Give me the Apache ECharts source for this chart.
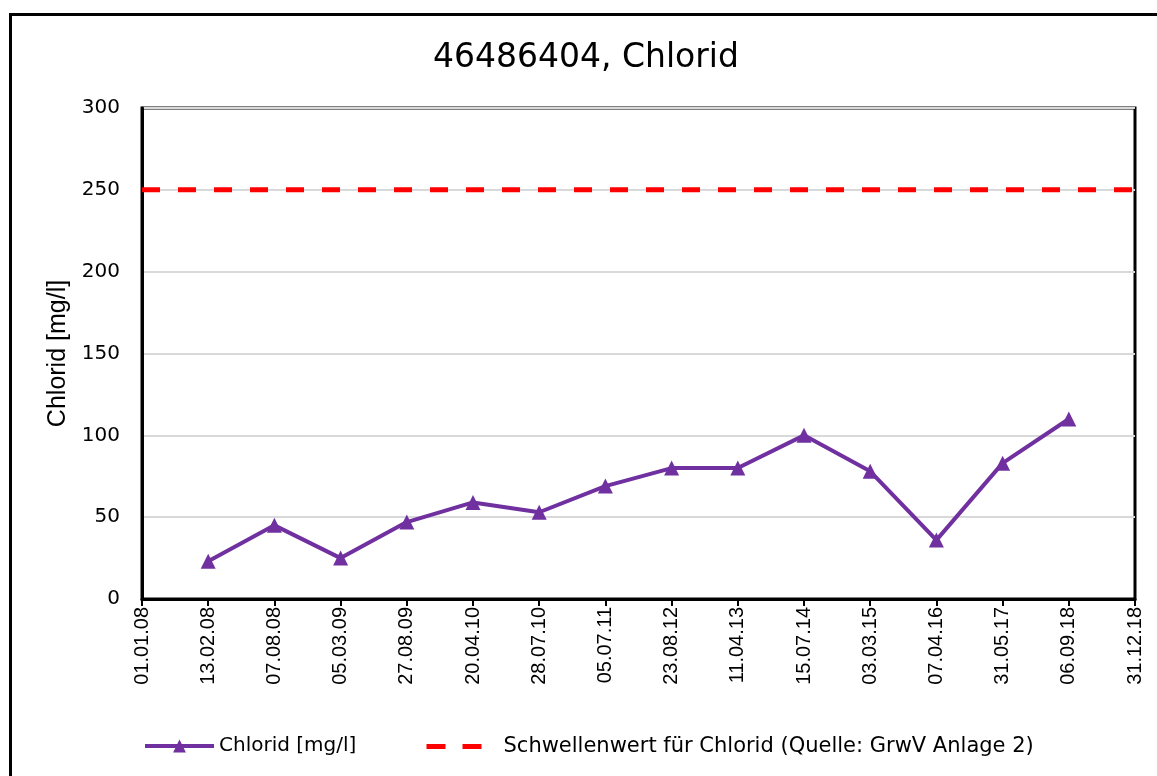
<!DOCTYPE html>
<html>
<head>
<meta charset="utf-8">
<script src="https://cdn.jsdelivr.net/npm/echarts@6/dist/echarts.min.js"></script>
<style>html,body{margin:0;padding:0;background:#fff;}#c{width:1157px;height:776px;}</style>
</head>
<body>
<div id="c"></div>
<script>
const categories = ['01.01.08','13.02.08','07.08.08','05.03.09','27.08.09','20.04.10','28.07.10','05.07.11','23.08.12','11.04.13','15.07.14','03.03.15','07.04.16','31.05.17','06.09.18','31.12.18'];
const chloridValues = [null,23,45,25,47,59,53,69,80,80,100,78,36,83,110,null];
const thresholdValues = [250,250,250,250,250,250,250,250,250,250,250,250,250,250,250,250];
const yTicks = [0,50,100,150,200,250,300];
const titleText = '46486404, Chlorid';
const seriesNames = ['Chlorid [mg/l]','Schwellenwert für Chlorid (Quelle: GrwV Anlage 2)'];

const FONT = 'DejaVu Sans, Liberation Sans, Arial, sans-serif';
const FONT_V = 'Liberation Sans, Arial, sans-serif';
const chart = echarts.init(document.getElementById('c'), null, {renderer:'canvas'});
chart.setOption({
  backgroundColor:'#ffffff',
  animation:false,
  graphic:[{type:'rect',left:8,top:12,shape:{x:0,y:0,width:1200,height:800},style:{fill:'none',stroke:'#000',lineWidth:3},silent:true,z:-1}],
  title:{text:titleText,left:428,top:37,textStyle:{fontFamily:FONT,fontSize:33,fontWeight:'normal',color:'#000'}},
  grid:{left:142,right:22,top:108,bottom:177,show:true,borderColor:'#000',borderWidth:3,backgroundColor:'transparent'},
  legend:[
    {
      top:731,left:138,itemWidth:69,itemHeight:16,itemGap:0,
      textStyle:{fontFamily:FONT,fontSize:20,color:'#000'},
      data:[{name:seriesNames[0],lineStyle:{width:4,color:'#7030a0'}}]
    },
    {
      top:731,left:419,itemWidth:72,itemHeight:16,itemGap:0,
      textStyle:{fontFamily:FONT,fontSize:21,color:'#000'},
      data:[{name:seriesNames[1],itemStyle:{opacity:0},lineStyle:{width:5,color:'#ff0000',type:[19,17]}}]
    }
  ],
  xAxis:{
    type:'category',data:categories,boundaryGap:false,
    axisLine:{lineStyle:{color:'#000',width:3}},
    axisTick:{show:true,alignWithLabel:true,length:7,lineStyle:{color:'#000',width:2}},
    axisLabel:{rotate:90,fontFamily:FONT_V,fontSize:20,color:'#000',margin:8,interval:0},
    splitLine:{show:false}
  },
  yAxis:{
    type:'value',min:0,max:300,interval:50,
    name:'Chlorid [mg/l]',nameLocation:'middle',nameGap:69,nameRotate:90,
    nameTextStyle:{fontFamily:FONT_V,fontSize:25,color:'#000'},
    axisLine:{show:true,lineStyle:{color:'#000',width:3}},
    axisTick:{show:false},
    axisLabel:{fontFamily:FONT,fontSize:20,color:'#000',margin:22,
      formatter:function(v){return yTicks.indexOf(v)>=0?String(v):'';}},
    splitLine:{show:true,lineStyle:{color:'#d9d9d9',width:2}}
  },
  series:[
    {name:seriesNames[0],type:'line',data:chloridValues,connectNulls:false,
     symbol:'triangle',symbolSize:15,
     itemStyle:{color:'#7030a0'},lineStyle:{color:'#7030a0',width:4},z:3},
    {name:seriesNames[1],type:'line',data:thresholdValues,symbol:'none',
     itemStyle:{color:'#ff0000'},lineStyle:{color:'#ff0000',width:5,type:[18,18]},z:4}
  ]
});
</script>
</body>
</html>
